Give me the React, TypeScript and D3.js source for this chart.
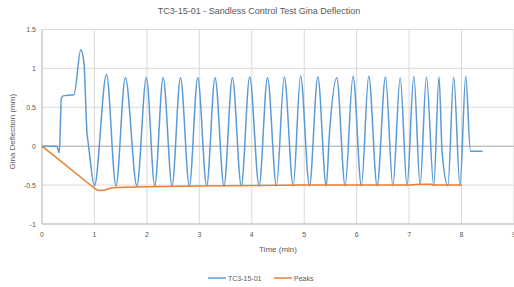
import React from "react";
import * as d3 from "d3";

const W = 514;
const H = 287;

const title = "TC3-15-01 - Sandless Control Test Gina Deflection";
const xTitle = "Time (min)";
const yTitle = "Gina Deflection (mm)";
const xTicks = [0, 1, 2, 3, 4, 5, 6, 7, 8, 9];
const yTicks = [-1, -0.5, 0, 0.5, 1, 1.5];
const seriesNames = ["TC3-15-01", "Peaks"];
const seriesColors = ["#5B9BD5", "#ED7D31"];

// TC3-15-01 deflection: [time (min), deflection (mm)]
const gaugeT = [
  0, 0.28, 0.33, 0.37, 0.42, 0.61, 0.74, 0.8, 0.86, 0.88, 1.0,
  1.23, 1.41, 1.59, 1.81, 1.99, 2.15, 2.31, 2.48, 2.64, 2.81, 2.97, 3.14,
  3.3, 3.47, 3.63, 3.8, 3.96, 4.14, 4.3, 4.47, 4.62, 4.79, 4.93, 5.1,
  5.26, 5.42, 5.48, 5.62, 5.78, 5.93, 6.09, 6.23, 6.39, 6.55, 6.69, 6.83,
  6.96, 7.09, 7.21, 7.33, 7.47, 7.57, 7.63, 7.74, 7.85, 7.97, 8.08, 8.17, 8.4,
];
const gaugeV = [
  0, 0, -0.085, 0.62, 0.65, 0.66, 1.24, 1.07, 0.15, 0.05, -0.51,
  0.92, -0.51, 0.88, -0.51, 0.88, -0.51, 0.88, -0.51, 0.88, -0.51, 0.88, -0.51,
  0.88, -0.51, 0.88, -0.51, 0.89, -0.51, 0.88, -0.51, 0.89, -0.51, 0.9, -0.51,
  0.89, -0.51, 0.15, 0.88, -0.51, 0.9, -0.51, 0.9, -0.51, 0.89, -0.51, 0.88,
  -0.51, 0.9, -0.5, 0.89, -0.51, 0.89, -0.08, -0.51, 0.89, -0.51, 0.9, -0.065, -0.065,
];

// Peaks (trough envelope)
const peaksT = [0, 1.0, 1.05, 1.1, 1.2, 1.3, 1.41, 2.0, 3.0, 4.0, 5.0, 6.0, 7.0, 7.2, 7.4, 7.5, 8.0];
const peaksV = [0, -0.54, -0.562, -0.57, -0.562, -0.54, -0.53, -0.52, -0.51, -0.505, -0.5, -0.5, -0.5, -0.49, -0.49, -0.5, -0.5];

const FONT = "'Liberation Sans', Arial, sans-serif";
const TEXT = "#595959";

export default function App() {
  const left = 42;
  const right = 514;
  const top = 29.5;
  const bottom = 224;
  const x = d3.scaleLinear().domain([0, 9]).range([left, right]);
  const y = d3.scaleLinear().domain([-1, 1.5]).range([bottom, top]);

  const smooth = d3
    .line<[number, number]>()
    .x((d) => x(d[0]))
    .y((d) => y(d[1]))
    .curve(d3.curveMonotoneX);
  const straight = d3
    .line<[number, number]>()
    .x((d) => x(d[0]))
    .y((d) => y(d[1]));

  const gauge: [number, number][] = gaugeT.map((t, i) => [t, gaugeV[i]]);
  const peaks: [number, number][] = peaksT.map((t, i) => [t, peaksV[i]]);

  return (
    <svg
      width={W}
      height={H}
      style={{ position: "absolute", left: 0, top: 0, background: "#fff" }}
      fontFamily={FONT}
    >
      <text x={259} y={14} textAnchor="middle" fontSize={9} fill={TEXT}>
        {title}
      </text>
      {/* grid */}
      {xTicks.map((t) => (
        <line key={"gx" + t} x1={x(t)} x2={x(t)} y1={top} y2={bottom} stroke="#D9D9D9" strokeWidth={1} />
      ))}
      {yTicks.map((t) => (
        <line
          key={"gy" + t}
          x1={left}
          x2={right}
          y1={y(t)}
          y2={y(t)}
          stroke={t === 0 ? "#A6A6A6" : "#D9D9D9"}
          strokeWidth={1}
        />
      ))}
      <line x1={left} x2={left} y1={top} y2={bottom} stroke="#BFBFBF" />
      <line x1={left} x2={right} y1={bottom} y2={bottom} stroke="#BFBFBF" />
      {/* tick labels */}
      {yTicks.map((t) => (
        <text key={"ty" + t} x={36} y={y(t) + 2.5} textAnchor="end" fontSize={7} fill={TEXT}>
          {t}
        </text>
      ))}
      {xTicks.map((t) => (
        <text key={"tx" + t} x={x(t)} y={237} textAnchor="middle" fontSize={7} fill={TEXT}>
          {t}
        </text>
      ))}
      <text x={(left + right) / 2} y={252} textAnchor="middle" fontSize={8} fill={TEXT}>
        {xTitle}
      </text>
      <text
        transform={`translate(15, ${(top + bottom) / 2 + 5}) rotate(-90)`}
        textAnchor="middle"
        fontSize={8}
        fill={TEXT}
      >
        {yTitle}
      </text>
      {/* series */}
      <path d={smooth(gauge) || ""} fill="none" stroke={seriesColors[0]} strokeWidth={1.5} strokeLinejoin="round" />
      <path d={straight(peaks) || ""} fill="none" stroke={seriesColors[1]} strokeWidth={1.5} strokeLinejoin="round" />
      {/* legend */}
      <line x1={208} x2={226} y1={278} y2={278} stroke={seriesColors[0]} strokeWidth={1.5} />
      <text x={228} y={280.5} fontSize={7} fill={TEXT}>
        {seriesNames[0]}
      </text>
      <line x1={274} x2={292} y1={278} y2={278} stroke={seriesColors[1]} strokeWidth={1.5} />
      <text x={294} y={280.5} fontSize={7} fill={TEXT}>
        {seriesNames[1]}
      </text>
    </svg>
  );
}
